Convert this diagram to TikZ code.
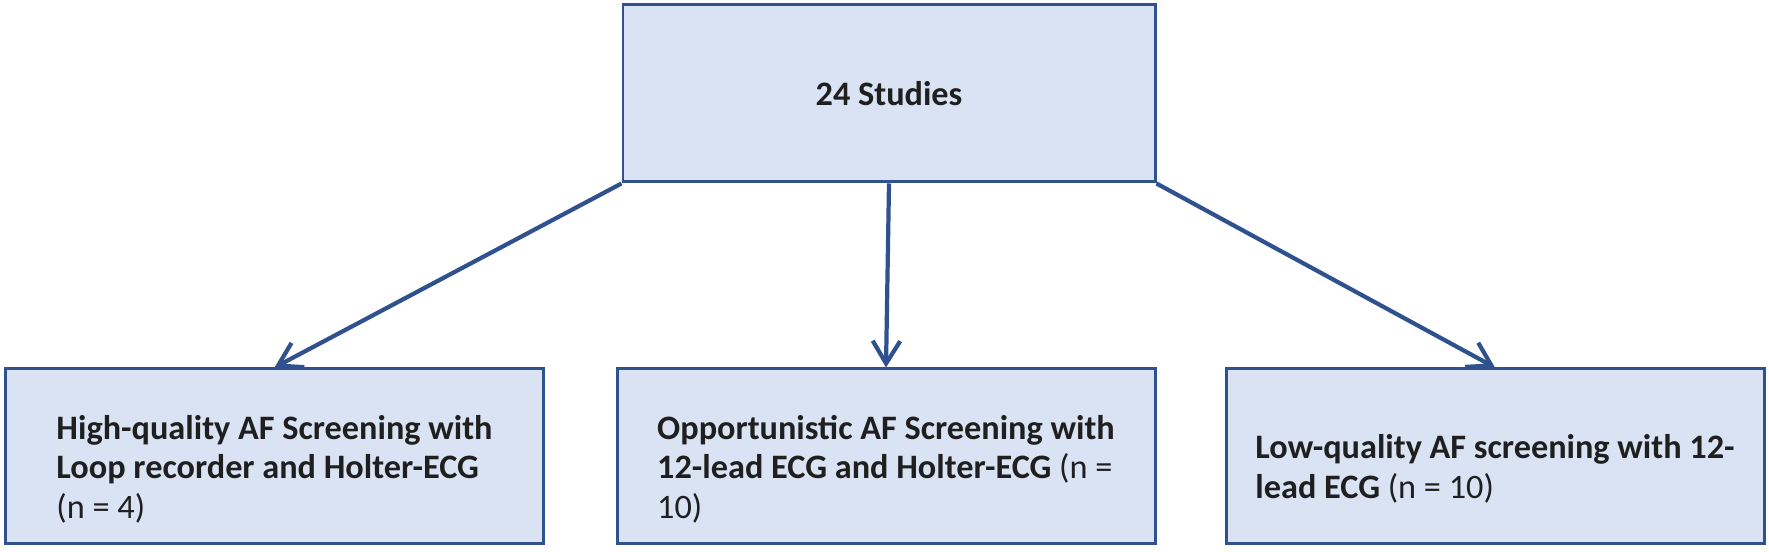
\documentclass[tikz,border=0pt]{standalone}
\usepackage{fontspec}
\setmainfont{Carlito}
\usetikzlibrary{arrows.meta}
\definecolor{boxline}{HTML}{2F528F}
\definecolor{boxfill}{HTML}{DAE3F3}

\begin{document}
\begin{tikzpicture}[
  >={Straight Barb[length=4.5mm, width=5.5mm]},
  every node/.style={font=\fontsize{19.5}{22.5}\selectfont, text=black!88},
  topbox/.style={rectangle, fill=boxfill, draw=boxline, line width=1.7pt, minimum width=10.64cm, minimum height=3.54cm},
  groupbox/.style={rectangle, fill=boxfill, draw=boxline, line width=1.7pt, minimum width=10.76cm, minimum height=3.5cm},
  grouptext/.style={align=left, inner sep=0pt},
  edge/.style={->, line width=2.4pt, draw=boxline},
]
\useasboundingbox (0,0) rectangle (35.38,11.04);

% ---- top box ----
\node[topbox, font=\fontsize{19.5}{22.5}\selectfont\bfseries] (all) at (17.78, 9.17) {24 Studies};

% ---- screening groups ----
\node[groupbox] (high) at (5.49, 1.91) {};
\node[groupbox] (opp)  at (17.72, 1.91) {};
\node[groupbox] (low)  at (29.90, 1.91) {};

% ---- texts inside the groups (a bit below the middle) ----
\node[grouptext] (highText) at ([yshift=-2.5mm]high.center)
  {\textbf{High-quality AF Screening with}\\\textbf{Loop recorder and Holter-ECG}\\(n = 4)};
\node[grouptext] (oppText)  at ([yshift=-2.5mm]opp.center)
  {\textbf{Opportunistic AF Screening with}\\\textbf{12-lead ECG and Holter-ECG} (n =\\10)};
\node[grouptext] (lowText)  at ([yshift=-2.5mm]low.center)
  {\textbf{Low-quality AF screening with 12-}\\\textbf{lead ECG} (n = 10)};

% ---- arrows ----
\draw[edge] (all.south west) -- (high.north);
\draw[edge] (all.south) -- (opp.north);
\draw[edge] (all.south east) -- (low.north);

\end{tikzpicture}
\end{document}
